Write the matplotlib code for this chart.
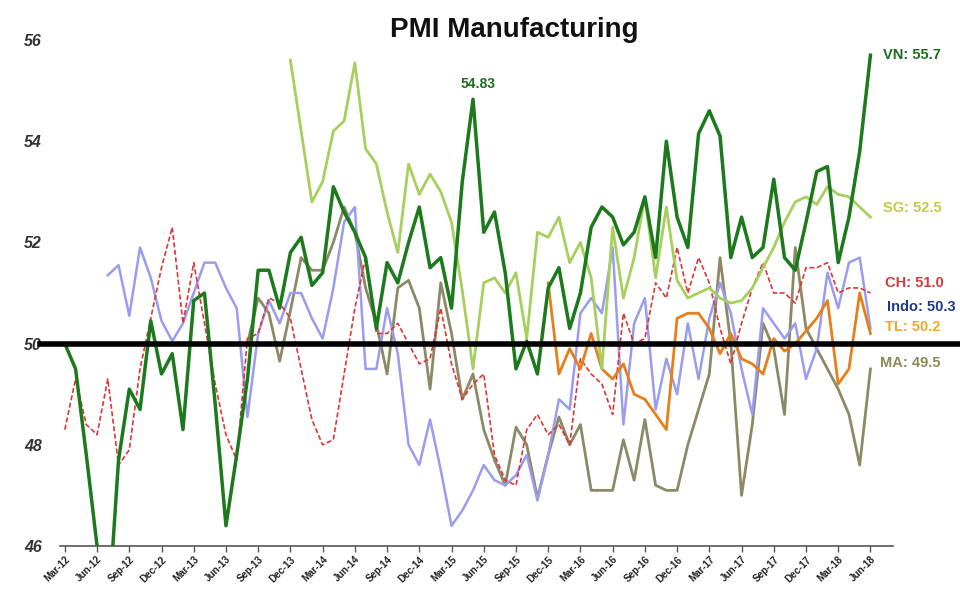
import numpy as np
import matplotlib
matplotlib.use("Agg")
import matplotlib.pyplot as plt

plt.rcParams['font.family'] = ['Liberation Sans', 'DejaVu Sans']

nan = np.nan

# Monthly data, Mar-12 .. Jun-18 (76 months)
tick_labels = ['Mar-12', 'Jun-12', 'Sep-12', 'Dec-12', 'Mar-13', 'Jun-13', 'Sep-13', 'Dec-13',
               'Mar-14', 'Jun-14', 'Sep-14', 'Dec-14', 'Mar-15', 'Jun-15', 'Sep-15', 'Dec-15',
               'Mar-16', 'Jun-16', 'Sep-16', 'Dec-16', 'Mar-17', 'Jun-17', 'Sep-17', 'Dec-17',
               'Mar-18', 'Jun-18']

vn = [50.0, 49.5, 47.8, 46.0, 44.5, 47.7, 49.1, 48.7, 50.45, 49.4,
      49.8, 48.3, 50.85, 51.0, 48.8, 46.4, 47.8, 49.3, 51.45, 51.45,
      50.7, 51.8, 52.1, 51.15, 51.4, 53.1, 52.6, 52.2, 51.7, 50.3,
      51.6, 51.2, 52.0, 52.7, 51.5, 51.7, 50.7, 53.2, 54.83, 52.2,
      52.6, 51.4, 49.5, 50.05, 49.4, 51.1, 51.5, 50.3, 51.0, 52.3,
      52.7, 52.5, 51.95, 52.2, 52.9, 51.7, 54.0, 52.5, 51.9, 54.15,
      54.6, 54.1, 51.7, 52.5, 51.7, 51.9, 53.25, 51.7, 51.45, 52.4,
      53.4, 53.5, 51.6, 52.5, 53.8, 55.7]

sg = [nan] * 21 + [
      55.6, 54.2, 52.8, 53.2, 54.2, 54.4, 55.55, 53.85, 53.55,
      52.6, 51.8, 53.55, 52.95, 53.35, 53.0, 52.4, 51.05, 49.5, 51.2,
      51.3, 51.0, 51.4, 50.1, 52.2, 52.1, 52.5, 51.6, 52.0, 51.3,
      49.5, 52.3, 50.9, 51.7, 52.9, 51.3, 52.7, 51.25, 50.9, 51.0,
      51.1, 50.9, 50.8, 50.85, 51.1, 51.5, 51.9, 52.4, 52.8, 52.9,
      52.75, 53.1, 52.95, 52.9, 52.7, 52.5]

ch = [48.3, 49.3, 48.4, 48.2, 49.3, 47.6, 47.9, 49.5, 50.5, 51.5,
      52.3, 50.4, 51.6, 50.4, 49.2, 48.2, 47.7, 50.1, 50.2, 50.9,
      50.8, 50.5, 49.5, 48.5, 48.0, 48.1, 49.4, 50.7, 51.7, 50.2,
      50.2, 50.4, 50.0, 49.6, 49.7, 50.7, 49.6, 48.9, 49.2, 49.4,
      47.8, 47.3, 47.2, 48.3, 48.6, 48.2, 48.4, 48.0, 49.7, 49.4,
      49.2, 48.6, 50.6, 50.0, 50.1, 51.2, 50.9, 51.9, 51.0, 51.7,
      51.2, 50.3, 49.6, 50.4, 51.1, 51.6, 51.0, 51.0, 50.8, 51.5,
      51.5, 51.6, 51.0, 51.1, 51.1, 51.0]

indo = [nan] * 4 + [
        51.35, 51.55, 50.55, 51.9, 51.3, 50.45,
        50.05, 50.4, 51.0, 51.6, 51.6, 51.1, 50.7, 48.55, 50.2, 50.85,
        50.4, 51.0, 51.0, 50.5, 50.1, 51.1, 52.4, 52.7, 49.5, 49.5,
        50.7, 49.8, 48.0, 47.6, 48.5, 47.5, 46.4, 46.7, 47.1, 47.6,
        47.3, 47.2, 47.4, 47.8, 46.9, 47.8, 48.9, 48.7, 50.6, 50.9,
        50.6, 51.9, 48.4, 50.4, 50.9, 48.7, 49.7, 49.0, 50.4, 49.3,
        50.5, 51.2, 50.6, 49.5, 48.6, 50.7, 50.4, 50.1, 50.4, 49.3,
        49.9, 51.4, 50.7, 51.6, 51.7, 50.3]

tl = [nan] * 45 + [
      51.2, 49.4, 49.9, 49.5, 50.2,
      49.5, 49.3, 49.6, 49.0, 48.9, 48.6, 48.3, 50.5, 50.6, 50.6,
      50.3, 49.8, 50.2, 49.7, 49.6, 49.4, 50.1, 49.85, 50.0, 50.25,
      50.5, 50.85, 49.2, 49.5, 51.0, 50.2]

ma = [nan] * 17 + [
      50.0, 50.9, 50.6,
      49.65, 50.65, 51.7, 51.45, 51.45, 52.0, 52.7, 52.2, 51.1, 50.4,
      49.4, 51.1, 51.25, 50.7, 49.1, 51.2, 50.2, 48.9, 49.4, 48.3,
      47.7, 47.2, 48.35, 48.0, 46.95, 47.8, 48.55, 48.0, 48.4, 47.1,
      47.1, 47.1, 48.1, 47.3, 48.5, 47.2, 47.1, 47.1, 48.0, 48.7,
      49.4, 51.7, 50.0, 47.0, 48.4, 50.4, 49.9, 48.6, 51.9, 50.3,
      49.9, 49.5, 49.1, 48.6, 47.6, 49.5]

W, H = 960, 594
fig = plt.figure(figsize=(W / 100, H / 100), dpi=100)
left, right, top, bottom = 60, 893, 40, 546
ax = fig.add_axes([left / W, 1 - bottom / H, (right - left) / W, (bottom - top) / H])

x = np.arange(len(vn))

ax.plot(x, ma, color='#8c8a66', lw=2.0, zorder=2)
ax.plot(x, indo, color='#9a9cf0', lw=1.8, zorder=3)
ax.plot(x, ch, color='#e03535', lw=1.2, ls=(0, (3, 1.5)), zorder=4)
ax.plot(x, tl, color='#e57f1c', lw=2.0, zorder=5)
ax.plot(x, sg, color='#a6cf5e', lw=2.0, zorder=6)
ax.plot(x, vn, color='#1c7a1c', lw=2.5, zorder=7)

ax.axhline(50, xmin=(40 - left) / (right - left), xmax=(W - left) / (right - left),
           color='black', lw=4, clip_on=False, zorder=10)

ax.set_xlim(-0.45, 77.1)
ax.set_ylim(46, 56)

ax.set_yticks([46, 48, 50, 52, 54, 56])
ax.set_yticklabels(['46', '48', '50', '52', '54', '56'], fontsize=11.5,
                   fontweight='bold', style='italic', color='#333333')
ax.tick_params(axis='y', length=0, pad=13)

ax.set_xticks(np.arange(0, 76, 3))
ax.set_xticklabels(tick_labels, rotation=45, ha='right', rotation_mode='anchor',
                   fontsize=7, fontweight='bold', color='#222222')
ax.tick_params(axis='x', length=4, width=1, color='#555555', pad=2)

for s in ['left', 'right', 'top']:
    ax.spines[s].set_visible(False)
ax.spines['bottom'].set_color('#555555')
ax.spines['bottom'].set_linewidth(1.2)

fig.text(514 / W, 1 - 30 / H, 'PMI Manufacturing', ha='center', va='center',
         fontsize=20, fontweight='bold', color='#111111')

def ftext(px, py, s, c, size=10.5, ha='left'):
    fig.text(px / W, 1 - py / H, s, ha=ha, va='center', fontsize=size,
             fontweight='bold', color=c)

ftext(883, 55, 'VN: 55.7', '#1c6e1c')
ftext(883, 208, 'SG: 52.5', '#c4c844')
ftext(885, 283, 'CH: 51.0', '#d03a3a')
ftext(887, 307, 'Indo: 50.3', '#22388a')
ftext(885, 327, 'TL: 50.2', '#f0a828')
ftext(880, 363, 'MA: 49.5', '#8a8a58')
ftext(478, 84, '54.83', '#1c6e1c', size=10, ha='center')

fig.savefig('out.png', dpi=100)
